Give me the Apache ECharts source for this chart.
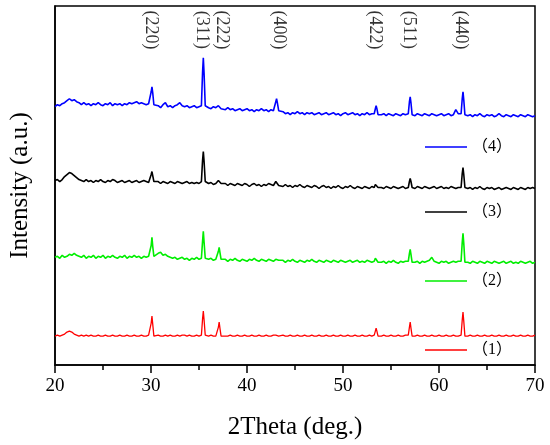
<!DOCTYPE html>
<html>
<head>
<meta charset="utf-8">
<script src="https://cdn.jsdelivr.net/npm/echarts@6/dist/echarts.min.js"></script>
<style>
  html, body { margin: 0; padding: 0; background: #fff; }
  #xrd { width: 550px; height: 445px; }
</style>
</head>
<body>
<div id="xrd"></div>
<script>
// 2theta grid (deg), denser around the reflections
var twoTheta = [
  20, 20.25, 20.5, 20.75, 21, 21.25, 21.5, 21.75, 22, 22.25,
  22.5, 22.75, 23, 23.25, 23.5, 23.75, 24, 24.25, 24.5, 24.75,
  25, 25.25, 25.5, 25.75, 26, 26.25, 26.5, 26.75, 27, 27.25,
  27.5, 27.75, 28, 28.25, 28.5, 28.75, 29, 29.25, 29.5, 29.75,
  29.9, 30.02, 30.1, 30.18, 30.3,
  30.5, 30.75, 31, 31.25, 31.5, 31.75, 32, 32.25, 32.5, 32.75, 33, 33.25, 33.5, 33.75, 34, 34.25, 34.5, 34.75, 35,
  35.25, 35.37, 35.45, 35.53, 35.65,
  36, 36.25, 36.5, 36.75,
  36.9, 37.02, 37.1, 37.18, 37.3,
  37.5, 37.75, 38, 38.25, 38.5, 38.75, 39, 39.25, 39.5, 39.75, 40, 40.25, 40.5, 40.75, 41, 41.25, 41.5, 41.75, 42, 42.25, 42.5, 42.75,
  42.92, 43.0, 43.08, 43.16, 43.3,
  43.5, 43.75, 44, 44.25, 44.5, 44.75, 45, 45.25, 45.5, 45.75,
  46, 46.25, 46.5, 46.75, 47, 47.25, 47.5, 47.75, 48, 48.25,
  48.5, 48.75, 49, 49.25, 49.5, 49.75, 50, 50.25, 50.5, 50.75,
  51, 51.25, 51.5, 51.75, 52, 52.25, 52.5, 52.75, 53,
  53.25, 53.37, 53.45, 53.53, 53.65,
  54, 54.25, 54.5, 54.75, 55, 55.25, 55.5, 55.75, 56, 56.25, 56.5,
  56.8, 56.92, 57.0, 57.08, 57.2,
  57.5, 57.75, 58, 58.25, 58.5, 58.75, 59, 59.25, 59.5, 59.75, 60, 60.25, 60.5, 60.75, 61, 61.25, 61.5, 61.75, 62,
  62.3, 62.42, 62.5, 62.58, 62.7,
  63, 63.25, 63.5, 63.75, 64, 64.25, 64.5, 64.75, 65, 65.25,
  65.5, 65.75, 66, 66.25, 66.5, 66.75, 67, 67.25, 67.5, 67.75,
  68, 68.25, 68.5, 68.75, 69, 69.25, 69.5, 69.75, 70
];

// intensities (a.u., curves already stacked with offsets)
var sample4 = [
  259, 261, 260, 262, 263, 265, 267, 265, 266, 264,
  263, 261, 263, 261, 262, 260, 262, 261, 263, 261,
  260, 262, 261, 263, 260, 262, 261, 262, 260, 262,
  261, 263, 262, 263, 264, 262, 263, 262, 261, 262,
  261, 274, 279, 273, 261,
  259, 260, 258, 261, 263, 259, 260, 258, 260, 261, 263, 260, 259, 260, 258, 259, 260, 258, 259,
  260, 293, 308, 292, 260,
  258, 257, 259, 258,
  258, 260, 261, 260, 257,
  257, 256, 258, 256, 257, 255, 256, 257, 255, 256, 257, 255, 256, 254, 256, 255, 257, 255, 256, 254, 256, 255,
  256, 264, 267, 263, 255,
  253, 254, 252, 253, 251, 253, 252, 254, 252, 253,
  251, 253, 252, 253, 251, 252, 253, 251, 252, 253,
  251, 252, 253, 251, 252, 250, 252, 253, 251, 252,
  253, 251, 252, 250, 252, 251, 253, 251, 252,
  252, 257, 260, 257, 251,
  251, 252, 250, 252, 251, 250, 252, 251, 250, 252, 251,
  252, 264, 269, 263, 251,
  250, 252, 251, 250, 252, 251, 250, 252, 251, 250, 251, 252, 250, 251, 252, 250, 251, 256, 252,
  252, 267, 274, 266, 251,
  250, 251, 249, 251, 250, 252, 250, 249, 251, 250,
  251, 249, 250, 252, 250, 249, 251, 250, 249, 251,
  250, 249, 251, 250, 249, 251, 250, 249, 250
];

var sample3 = [
  185, 186, 184, 186, 189, 191, 193, 192, 190, 188,
  186, 185, 184, 186, 184, 185, 183, 185, 184, 186,
  184, 183, 185, 184, 186, 185, 183, 184, 185, 183,
  184, 185, 183, 184, 185, 183, 184, 185, 184, 183,
  184, 191, 194, 190, 184,
  183, 184, 182, 184, 183, 182, 184, 183, 182, 184, 183, 182, 183, 184, 182, 183, 182, 183, 182,
  184, 205, 214, 204, 184,
  182, 183, 181, 182,
  182, 185, 187, 185, 182,
  181, 182, 180, 182, 181, 180, 182, 181, 180, 182, 181, 179, 181, 182, 180, 181, 179, 181, 180, 182, 181, 180,
  181, 184, 186, 184, 180,
  180, 179, 181, 179, 180, 178, 180, 179, 181, 179,
  178, 180, 179, 178, 180, 179, 177, 179, 180, 178,
  179, 177, 179, 178, 180, 178, 177, 179, 178, 180,
  178, 177, 179, 178, 177, 179, 178, 177, 179,
  178, 181, 183, 181, 178,
  178, 177, 179, 178, 177, 179, 178, 177, 178, 179, 177,
  178, 184, 187, 184, 178,
  177, 179, 178, 177, 179, 178, 177, 178, 179, 177, 178, 179, 177, 178, 177, 179, 178, 177, 178,
  178, 192, 198, 191, 178,
  177, 178, 176, 178, 177, 179, 177, 176, 178, 177,
  178, 176, 177, 178, 176, 177, 178, 177, 176, 178,
  177, 176, 178, 177, 176, 178, 177, 178, 177
];

var sample2 = [
  108, 109, 107, 110, 108, 109, 111, 110, 112, 110,
  109, 108, 110, 107, 109, 108, 110, 107, 109, 108,
  110, 107, 109, 108, 110, 108, 107, 109, 108, 110,
  107, 109, 108, 110, 108, 109, 107, 109, 108, 109,
  109, 120, 128, 119, 109,
  110, 112, 113, 110, 111, 109, 108, 107, 108, 106, 107, 108, 106, 107, 105, 107, 106, 108, 106,
  107, 124, 134, 123, 107,
  106, 107, 105, 106,
  106, 114, 118, 113, 106,
  105, 106, 104, 106, 105, 107, 105, 104, 106, 105, 104, 106, 105, 107, 105, 104, 106, 105, 104, 106, 105, 104,
  105, 106, 107, 106, 105,
  104, 105, 103, 105, 104, 106, 104, 103, 105, 104,
  103, 105, 104, 106, 104, 103, 105, 104, 103, 105,
  104, 103, 105, 104, 103, 105, 104, 103, 104, 105,
  103, 104, 105, 103, 104, 103, 105, 104, 103,
  104, 107, 109, 107, 103,
  103, 104, 102, 104, 103, 105, 103, 102, 104, 103, 104,
  104, 112, 116, 111, 103,
  103, 104, 102, 104, 103, 104, 105, 108, 104, 103, 102, 104, 103, 104, 102, 103, 104, 103, 104,
  104, 123, 132, 122, 103,
  103, 102, 104, 103, 102, 104, 103, 102, 104, 103,
  102, 104, 103, 102, 103, 104, 102, 103, 104, 102,
  103, 102, 104, 103, 102, 103, 104, 102, 103
];

var sample1 = [
  29, 30, 29, 30, 31, 33, 34, 33, 31, 30,
  29, 30, 29, 30, 29, 30, 29, 29, 30, 29,
  29, 30, 29, 29, 30, 29, 29, 30, 29, 29,
  30, 29, 29, 30, 29, 29, 30, 29, 29, 30,
  30, 42, 49, 41, 29,
  29, 30, 29, 29, 30, 29, 30, 29, 29, 30, 29, 30, 30, 29, 30, 29, 29, 30, 29,
  30, 46, 54, 45, 30,
  29, 30, 29, 29,
  29, 38, 43, 37, 29,
  30, 29, 29, 30, 29, 29, 30, 29, 29, 30, 29, 29, 30, 29, 29, 30, 29, 29, 30, 29, 29, 30,
  29, 30, 31, 30, 29,
  29, 30, 29, 29, 30, 29, 29, 30, 29, 29,
  30, 29, 29, 30, 29, 29, 30, 29, 29, 30,
  29, 29, 30, 29, 29, 30, 29, 29, 30, 29,
  29, 30, 29, 29, 30, 29, 29, 30, 29,
  30, 34, 37, 34, 29,
  29, 30, 29, 29, 30, 29, 29, 30, 29, 29, 30,
  30, 38, 43, 37, 29,
  29, 30, 29, 29, 30, 29, 29, 30, 29, 29, 30, 29, 29, 30, 29, 29, 30, 29, 29,
  30, 45, 53, 44, 29,
  29, 30, 29, 29, 30, 29, 29, 30, 29, 29,
  30, 29, 29, 30, 29, 29, 30, 29, 29, 30,
  29, 29, 30, 29, 29, 30, 29, 29, 30
];

// reflection labels and where they sit on the 2theta axis
var peakNames = ['(220)', '(311)', '(222)', '(400)', '(422)', '(511)', '(440)'];
var peakTheta = [29.95, 35.25, 37.32, 43.35, 53.28, 56.8, 62.3];

var seriesNames = ['（1）', '（2）', '（3）', '（4）'];
var seriesColors = ['#ff0000', '#00ee00', '#000000', '#0000ff'];
var seriesData = [sample1, sample2, sample3, sample4];

var serif = "'Liberation Serif', 'Times New Roman', serif";
var legendFont = "'Liberation Serif', 'Noto Sans CJK SC', serif";

var chart = echarts.init(document.getElementById('xrd'));

var series = seriesData.map(function (vals, k) {
    return {
        name: seriesNames[k],
        type: 'line',
        showSymbol: false,
        symbol: 'none',
        lineStyle: { color: seriesColors[k], width: k === 0 ? 1.3 : 1.6 },
        itemStyle: { color: seriesColors[k] },
        data: twoTheta.map(function (x, i) { return [x, vals[i]]; }),
        z: 2
    };
});

series.push({
    type: 'scatter',
    symbolSize: 0,
    silent: true,
    data: peakTheta.map(function (x, i) { return { name: peakNames[i], value: [x, 336] }; }),
    label: {
        show: true,
        position: 'inside',
        rotate: -90,
        formatter: '{b}',
        color: '#000',
        fontFamily: serif,
        fontSize: 18
    },
    z: 3
});

// one legend box per curve, each placed beside its trace
var legendTops = [342, 273, 204, 139];
var legends = seriesNames.map(function (n, k) {
    return {
        data: [n],
        left: 425,
        top: legendTops[k],
        padding: 0,
        icon: 'rect',
        itemWidth: 42,
        itemHeight: 1.5,
        selectedMode: false,
        textStyle: { fontFamily: legendFont, fontSize: 16, color: '#000' }
    };
});

var option = {
    animation: false,
    backgroundColor: '#fff',
    grid: {
        left: 51, right: 15, top: 6, bottom: 79,
        show: true, borderColor: '#000', borderWidth: 1.5, backgroundColor: 'transparent'
    },
    legend: legends,
    xAxis: {
        type: 'value',
        min: 20,
        max: 70,
        interval: 10,
        name: '2Theta (deg.)',
        nameLocation: 'middle',
        nameGap: 50,
        nameTextStyle: { fontFamily: serif, fontSize: 25, color: '#000' },
        axisLine: { lineStyle: { color: '#000', width: 1.5 } },
        axisTick: { show: true, inside: false, length: 8, lineStyle: { color: '#000', width: 1.5 } },
        minorTick: { show: true, splitNumber: 2, length: 5, lineStyle: { color: '#000', width: 1.5 } },
        axisLabel: { fontFamily: serif, fontSize: 19, color: '#000', margin: 12 },
        splitLine: { show: false }
    },
    yAxis: {
        type: 'value',
        min: 0,
        max: 360,
        name: 'Intensity (a.u.)',
        nameLocation: 'middle',
        nameGap: 22,
        nameTextStyle: { fontFamily: serif, fontSize: 25, color: '#000' },
        axisLine: { show: true, lineStyle: { color: '#000', width: 1.5 } },
        axisTick: { show: false },
        axisLabel: { show: false },
        splitLine: { show: false }
    },
    series: series
};

chart.setOption(option);
</script>
</body>
</html>
